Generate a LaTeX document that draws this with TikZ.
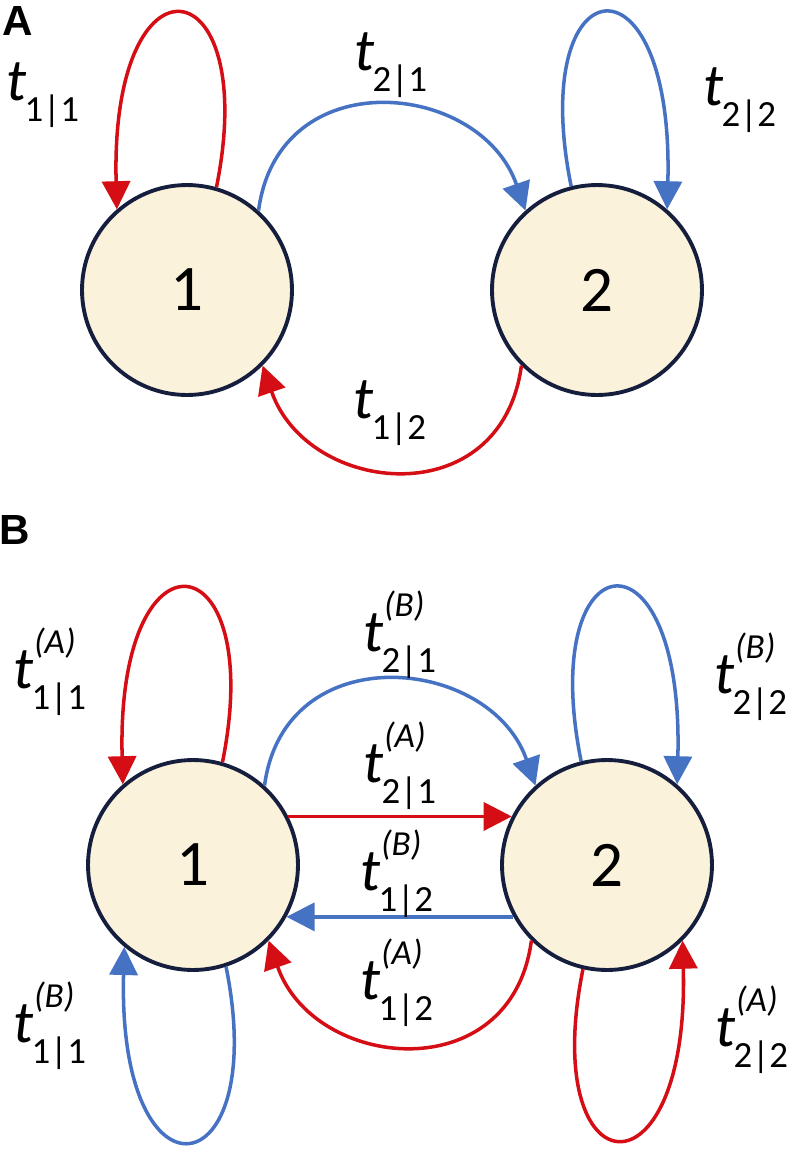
\documentclass[tikz,border=0pt]{standalone}
\usepackage{fontspec}
\setmainfont{Carlito}
\setsansfont{Liberation Sans}
\usetikzlibrary{arrows.meta}

\definecolor{ratered}{RGB}{212,14,20}
\definecolor{rateblue}{RGB}{70,114,196}
\definecolor{stateedge}{RGB}{22,30,62}
\definecolor{statefill}{RGB}{251,242,219}

% t with subscript #1 and superscript #2
\newcommand{\rate}[2]{\textit{t}\makebox[0pt][l]{\raisebox{0.58em}{\fontsize{20}{20}\selectfont\itshape #2}}\kern-0.04em\raisebox{-0.36em}{\fontsize{21}{21}\selectfont #1}}

\begin{document}
\begin{tikzpicture}[x=0.02cm,y=-0.02cm,>={Triangle[length=16pt,width=16pt]},
  statenode/.style={circle,draw=stateedge,fill=statefill,line width=2.2pt,
    minimum size=4.2cm,inner sep=0pt,font=\fontsize{37}{40}\selectfont},
  ratelabel/.style={inner sep=0pt,font=\fontsize{34}{38}\selectfont},
  panel/.style={inner sep=0pt,font=\sffamily\bfseries\fontsize{24}{26}\selectfont},
  arc/.style={line width=2pt,->}]
\useasboundingbox (0,0) rectangle (802,1154);

% panel A
\node[panel] (pA) at (18,21) {A};
\node[statenode] (sA1) at (187,290) {1};
\node[statenode] (sA2) at (597,290) {2};

\draw[arc,ratered] (sA1.74) .. controls +(45,-223) and +(-7,-266) .. (sA1.131);
\draw[arc,rateblue] (sA2.104) .. controls +(-45,-223) and +(7,-266) .. (sA2.49);
\draw[arc,rateblue] (sA1.48) .. controls +(20,-150) and +(-45,-130) .. (sA2.132);
\draw[arc,ratered] (sA2.225) .. controls +(-20,150) and +(45,130) .. (sA1.315);

\node[ratelabel] (lA11) at (43,95) {\rate{1|1}{}};
\node[ratelabel] (lA21) at (391,65) {\rate{2|1}{}};
\node[ratelabel] (lA22) at (740,100) {\rate{2|2}{}};
\node[ratelabel] (lA12) at (390,413) {\rate{1|2}{}};

% panel B
\node[panel] (pB) at (15,530) {B};
\node[statenode] (sB1) at (193,865) {1};
\node[statenode] (sB2) at (607,865) {2};

\draw[arc,ratered] (sB1.74) .. controls +(45,-223) and +(-7,-266) .. (sB1.131);
\draw[arc,rateblue] (sB2.104) .. controls +(-45,-223) and +(7,-266) .. (sB2.49);
\draw[arc,rateblue] (sB1.288) .. controls +(45,223) and +(-7,266) .. (sB1.230);
\draw[arc,ratered] (sB2.257) .. controls +(-45,223) and +(7,266) .. (sB2.315);
\draw[arc,rateblue] (sB1.48) .. controls +(20,-150) and +(-45,-130) .. (sB2.132);
\draw[arc,ratered] (sB1.27) -- (sB2.153);
\draw[arc,rateblue] (sB2.209) -- (sB1.331);
\draw[arc,ratered] (sB2.225) .. controls +(-20,150) and +(45,130) .. (sB1.315);

\node[ratelabel] (lB11a) at (50,672) {\rate{1|1}{(A)}};
\node[ratelabel] (lB21b) at (400,635) {\rate{2|1}{(B)}};
\node[ratelabel] (lB22b) at (751,677) {\rate{2|2}{(B)}};
\node[ratelabel] (lB21a) at (400,766) {\rate{2|1}{(A)}};
\node[ratelabel] (lB12b) at (397,874) {\rate{1|2}{(B)}};
\node[ratelabel] (lB12a) at (397,983) {\rate{1|2}{(A)}};
\node[ratelabel] (lB11b) at (50,1026) {\rate{1|1}{(B)}};
\node[ratelabel] (lB22a) at (752,1030) {\rate{2|2}{(A)}};
\end{tikzpicture}
\end{document}
